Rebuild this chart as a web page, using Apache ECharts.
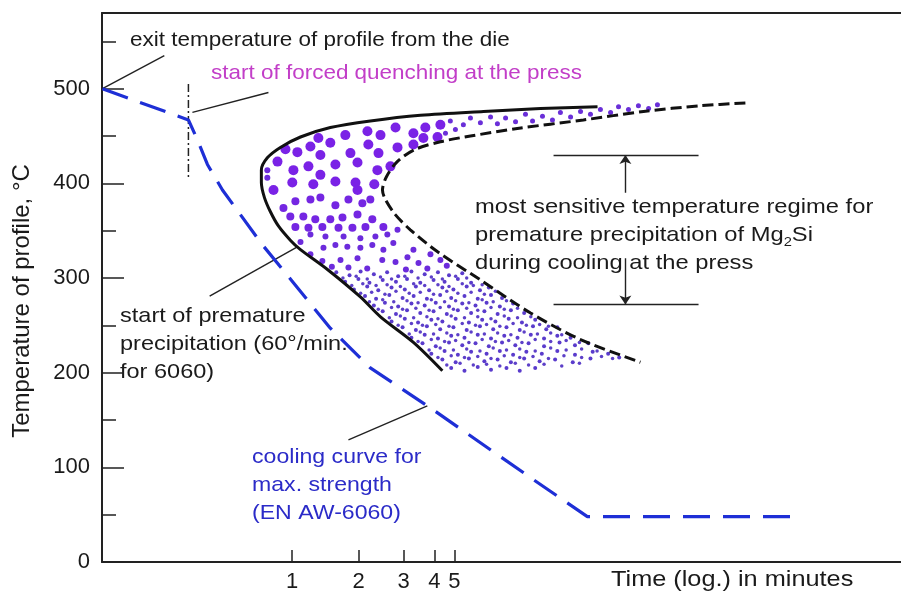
<!DOCTYPE html>
<html><head><meta charset="utf-8">
<script src="https://cdn.jsdelivr.net/npm/echarts@6/dist/echarts.min.js"></script>
<style>html,body{margin:0;padding:0;background:#fff}#c{width:901px;height:593px}</style>
</head><body><div id="c"></div>
<script>
// x axis: log10(time / 1 min), tick marks as drawn in the figure
const xTickPos = [0, 0.301, 0.505, 0.644, 0.734];
const xTickLabels = ['1', '2', '3', '4', '5'];
const yMajorTicks = [0, 100, 200, 300, 400, 500];
const yMinorTicks = [50, 150, 250, 350, 450, 550];

// cooling curve for max. strength (EN AW-6060)
const coolingCurve = [[-0.858,500],[-0.469,467],[-0.428,446],[-0.383,420],[-0.315,393],[-0.234,367],[-0.134,335],[0.006,295],[0.173,247],[0.354,205],[0.612,165],[0.852,126],[1.092,87],[1.336,48],[2.300,48]];
// start of premature precipitation (solid C curve)
const solidCurve = [[1.382,481],[1.124,479],[0.866,476],[0.581,472],[0.354,466],[0.173,459],[0.038,449],[-0.053,438],[-0.112,427],[-0.139,414],[-0.139,401],[-0.125,385],[-0.098,370],[-0.062,355],[-0.008,340],[0.038,330],[0.160,309],[0.309,280],[0.400,259],[0.549,232],[0.680,202]];
// inner dashed C curve
const dashedCurve = [[2.051,485],[1.847,482],[1.590,476],[1.318,467],[1.019,458],[0.807,450],[0.671,444],[0.558,436],[0.476,423],[0.427,407],[0.409,393],[0.422,383],[0.467,367],[0.535,351],[0.657,328],[0.852,298],[1.079,263],[1.305,235],[1.576,211]];
// start of forced quenching (dash-dot marker)
const quenchMarker = [[-0.469,505],[-0.469,406]];

// leader lines
const exitLeader = [[-0.858,500],[-0.578,535]];
const quenchLeader = [[-0.451,475],[-0.107,496]];
const prematureLeader = [[-0.373,281],[0.024,333]];
const coolingLeader = [[0.255,129],[0.612,165]];
const regimeTop = [[1.183,430],[1.839,430]];
const regimeBottom = [[1.183,272],[1.839,272]];
const arrowUp = [[1.508,390],[1.508,430]];
const arrowDown = [[1.508,321],[1.508,272]];

// precipitate dots
const dotsLarge = [[0.119,448],[0.173,443],[0.241,451],[0.341,455],[0.400,451],[0.468,459],[0.549,453],[0.603,459],[0.671,462],
[-0.030,436],[0.024,433],[0.083,439],[0.128,430],[0.264,432],[0.345,441],[0.391,432],[0.477,438],[0.549,441],[0.658,449],[0.594,448],
[-0.066,423],[0.006,414],[0.074,418],[0.128,409],[0.196,420],[0.296,422],[0.386,414],[0.445,418],
[-0.084,393],[0.001,401],[0.096,399],[0.196,402],[0.287,401],[0.296,393],[0.372,399]];
const dotsMidLarge = [[-0.039,374],[0.015,381],[0.083,383],[0.128,385],[0.196,377],[0.255,383],[0.318,379],[0.354,383],
[-0.008,365],[0.051,365],[0.105,362],[0.173,362],[0.228,364],[0.296,367],[0.363,362],
[0.015,354],[0.074,353],[0.137,354],[0.210,353],[0.273,353],[0.332,354],[0.413,354]];
const dotsMid = [[0.038,338],[0.083,346],[0.151,344],[0.233,344],[0.309,342],[0.377,344],[0.431,346],[0.477,351],
[0.142,332],[0.196,335],[0.250,333],[0.309,332],[0.363,335],[0.413,330],[0.458,337],[0.549,330],
[0.522,322],[0.626,325],[0.219,319],[0.296,321],[0.408,319],[0.468,317],[0.572,316],[0.671,319],
[-0.112,414],[-0.112,406],
[0.083,325],[0.137,318],[0.180,312],[0.255,311],[0.340,310],[0.515,309],[0.612,310],[0.700,313]];
const dotsArm = [[0.716,466],[0.775,462],[0.807,469],[0.852,464],[0.898,470],[0.929,463],[0.966,469],[1.011,465],[1.056,473],[1.088,466],[1.133,471],[1.178,467],[1.214,475],[1.260,470],[1.305,476],[1.350,473],[1.395,478],[1.441,475],[1.477,481],[1.522,478],[1.567,482],[1.613,479],[1.653,483],[0.694,453],[0.739,457]];
const dotsSmall = [
[0.20,306],[0.26,303],[0.31,307],[0.37,304],[0.43,306],[0.48,302],[0.54,307],[0.60,304],[0.66,306],[0.71,303],[0.77,305],
[0.24,296],[0.30,299],[0.35,295],[0.41,298],[0.47,296],[0.52,299],[0.58,295],[0.64,298],[0.69,296],[0.75,299],[0.81,295],
[0.28,288],[0.34,291],[0.39,287],[0.45,290],[0.51,288],[0.56,291],[0.62,287],[0.68,290],[0.73,288],[0.79,291],[0.85,287],[0.89,290],
[0.33,281],[0.38,278],[0.44,282],[0.50,279],[0.55,281],[0.61,278],[0.67,282],[0.72,279],[0.78,281],[0.84,278],[0.90,282],[0.95,279],
[0.37,271],[0.42,274],[0.48,270],[0.54,273],[0.60,271],[0.65,274],[0.71,270],[0.77,273],[0.83,271],[0.88,274],[0.94,270],[1.00,273],
[0.41,265],[0.47,262],[0.52,266],[0.58,263],[0.64,265],[0.70,262],[0.75,266],[0.81,263],[0.87,265],[0.93,262],[0.99,266],[1.05,263],
[0.45,254],[0.51,257],[0.57,253],[0.63,256],[0.68,254],[0.74,257],[0.80,253],[0.86,256],[0.92,254],[0.98,257],[1.04,253],[1.10,256],
[0.50,248],[0.56,245],[0.61,249],[0.67,246],[0.73,248],[0.79,245],[0.85,249],[0.91,246],[0.97,248],[1.03,245],[1.09,249],[1.15,246],[1.20,248],
[0.54,237],[0.60,240],[0.66,236],[0.72,239],[0.78,237],[0.84,240],[0.90,236],[0.96,239],[1.02,237],[1.08,240],[1.14,236],[1.20,239],[1.26,237],
[0.59,231],[0.65,228],[0.71,232],[0.77,229],[0.83,231],[0.89,228],[0.95,232],[1.01,229],[1.07,231],[1.14,228],[1.21,232],[1.28,229],[1.34,231],
[0.63,220],[0.69,223],[0.75,219],[0.81,222],[0.88,220],[0.94,223],[1.00,219],[1.06,222],[1.13,220],[1.20,223],[1.28,219],[1.36,222],[1.43,220],
[0.68,214],[0.74,211],[0.80,215],[0.87,212],[0.93,214],[0.99,211],[1.05,215],[1.12,212],[1.19,214],[1.27,211],[1.35,215],[1.48,216],
[0.72,205],[0.78,202],[0.84,206],[0.90,203],[0.97,205],[1.03,202],[1.10,205]];
const dotsSmallB = [
[0.23,300],[0.29,302],[0.34,299],[0.40,301],[0.45,299],[0.51,302],[0.57,300],[0.63,301],[0.68,299],[0.74,302],[0.79,300],
[0.27,292],[0.32,294],[0.38,292],[0.43,293],[0.49,291],[0.55,294],[0.60,292],[0.66,293],[0.71,291],[0.77,294],[0.82,292],[0.86,293],
[0.31,284],[0.36,285],[0.42,283],[0.47,286],[0.53,284],[0.58,285],[0.64,283],[0.70,286],[0.75,284],[0.81,285],[0.87,283],[0.92,286],
[0.35,275],[0.41,277],[0.46,275],[0.52,276],[0.57,274],[0.63,277],[0.69,275],[0.74,276],[0.80,274],[0.86,277],[0.91,275],[0.97,276],
[0.39,267],[0.45,269],[0.50,267],[0.56,268],[0.62,266],[0.67,269],[0.73,267],[0.79,268],[0.84,266],[0.90,269],[0.96,267],[1.02,268],
[0.44,258],[0.49,260],[0.55,258],[0.61,259],[0.66,257],[0.72,260],[0.78,258],[0.84,259],[0.90,257],[0.96,260],[1.02,258],[1.08,259],
[0.48,250],[0.54,252],[0.59,250],[0.65,251],[0.71,249],[0.77,252],[0.83,250],[0.88,251],[0.94,249],[1.00,252],[1.06,250],[1.12,251],[1.16,249],
[0.53,241],[0.58,243],[0.64,241],[0.70,242],[0.75,240],[0.81,243],[0.87,241],[0.93,242],[0.99,240],[1.05,243],[1.11,241],[1.17,242],[1.22,240],
[0.57,233],[0.63,235],[0.69,233],[0.74,234],[0.80,232],[0.86,235],[0.92,233],[0.98,234],[1.04,232],[1.10,235],[1.17,233],[1.24,234],[1.30,232],
[0.62,224],[0.67,226],[0.73,224],[0.79,225],[0.85,223],[0.91,226],[0.97,224],[1.03,225],[1.10,223],[1.17,226],[1.24,224],[1.31,225],[1.38,223],
[0.66,216],[0.72,218],[0.78,216],[0.84,217],[0.90,215],[0.96,218],[1.03,216],[1.09,217],[1.16,215],[1.23,218],[1.31,216],[1.40,217],[1.45,215],
[0.70,208],[0.76,210],[0.82,208],[0.88,209],[0.94,207],[1.01,210],[1.07,208],[1.14,209],[1.22,207],[1.30,210]];

const F = "'Liberation Sans', Arial, Helvetica, sans-serif";
const INK = '#1a1a1a';
const chart = echarts.init(document.getElementById('c'), null, {renderer: 'canvas'});

function leader(data, arrows) {
  return {
    type: 'lines', coordinateSystem: 'cartesian2d', silent: true, polyline: false,
    symbol: arrows ? ['none', 'arrow'] : 'none', symbolSize: 9,
    lineStyle: {color: '#222', width: 1.4, opacity: 1, curveness: 0},
    data: data.map(d => ({coords: d}))
  };
}
function dots(data, size, color) {
  return {type: 'scatter', data: data, symbolSize: size, silent: true, itemStyle: {color: color, opacity: 1}};
}

const option = {
  animation: false,
  grid: {left: 102, right: 0, top: 13, bottom: 31, show: false},
  xAxis: [{
    type: 'value', min: -0.86, max: 2.755,
    axisLine: {onZero: false, lineStyle: {color: '#222', width: 2}},
    splitLine: {show: false},
    axisTick: {show: true, inside: true, length: 12, customValues: xTickPos, lineStyle: {color: '#222', width: 1.5}},
    axisLabel: {customValues: xTickPos, margin: 9, fontSize: 22, fontFamily: F, color: INK,
      formatter: v => { const i = xTickPos.findIndex(p => Math.abs(p - v) < 1e-6); return i >= 0 ? xTickLabels[i] : ''; }}
  }, {
    type: 'value', min: -0.86, max: 2.755, position: 'top',
    axisLine: {show: true, onZero: false, lineStyle: {color: '#222', width: 2}},
    splitLine: {show: false}, axisTick: {show: false}, axisLabel: {show: false}
  }],
  yAxis: [{
    type: 'value', min: 0, max: 580,
    axisLine: {show: true, onZero: false, lineStyle: {color: '#222', width: 2}},
    splitLine: {show: false},
    axisTick: {show: true, inside: true, length: 22, customValues: yMajorTicks, lineStyle: {color: '#222', width: 1.5}},
    axisLabel: {customValues: yMajorTicks, margin: 12, fontSize: 22, fontFamily: F, color: INK}
  }, {
    type: 'value', min: 0, max: 580, position: 'left', offset: 0,
    axisLine: {show: false, onZero: false},
    splitLine: {show: false},
    axisTick: {show: true, inside: true, length: 14, customValues: yMinorTicks, lineStyle: {color: '#222', width: 1.5}},
    axisLabel: {show: false}
  }],
  series: [
    dots(dotsSmall, 4, '#5a3bcc'),
    dots(dotsSmallB, 3.5, '#5d40c8'),
    dots(dotsArm, 5, '#6a2fd8'),
    dots(dotsMid, 6, '#6c2bdc'),
    dots(dotsMidLarge, 8, '#7426e2'),
    dots(dotsLarge, 10, '#7a22e6'),
    {type: 'line', data: solidCurve, symbol: 'none', smooth: 0.3, silent: true,
      lineStyle: {color: '#111', width: 3}},
    {type: 'line', data: dashedCurve, symbol: 'none', smooth: 0.3, silent: true,
      lineStyle: {color: '#111', width: 3, type: [11, 5]}},
    {type: 'line', data: quenchMarker, symbol: 'none', silent: true,
      lineStyle: {color: '#222', width: 1.5, type: [8, 3, 2, 3]}},
    {type: 'line', data: coolingCurve, symbol: 'none', silent: true,
      lineStyle: {color: '#1e2fd6', width: 3.2, type: [27, 13]}},
    leader([exitLeader, quenchLeader, prematureLeader, coolingLeader, regimeTop, regimeBottom], false),
    leader([arrowUp, arrowDown], true)
  ],
  graphic: [
    {type: 'text', x: 130, y: 40, scaleX: 1.07, silent: true,
      style: {text: 'exit temperature of profile from the die', fontSize: 21, fontFamily: F, fill: INK, textVerticalAlign: 'middle', verticalAlign: 'middle'}},
    {type: 'text', x: 211, y: 73, scaleX: 1.07, silent: true,
      style: {text: 'start of forced quenching at the press', fontSize: 21, fontFamily: F, fill: '#c23ec8', textVerticalAlign: 'middle', verticalAlign: 'middle'}},
    {type: 'text', x: 475, y: 235, scaleX: 1.13, silent: true,
      style: {text: '{a|most sensitive temperature regime for}\n{a|premature precipitation of Mg}{s|2}{a|Si}\n{a|during cooling at the press}',
        fontSize: 21, fontFamily: F, fill: INK, textVerticalAlign: 'middle', verticalAlign: 'middle',
        rich: {a: {fontSize: 21, fontFamily: F, fill: INK, lineHeight: 28},
               s: {fontSize: 13, fontFamily: F, fill: INK, verticalAlign: 'bottom'}}}},
    {type: 'text', x: 120, y: 344, scaleX: 1.12, silent: true,
      style: {text: 'start of premature\nprecipitation (60°/min.\nfor 6060)', fontSize: 21, fontFamily: F, fill: INK, lineHeight: 28, textVerticalAlign: 'middle', verticalAlign: 'middle'}},
    {type: 'text', x: 252, y: 485, scaleX: 1.1, silent: true,
      style: {text: 'cooling curve for\nmax. strength\n(EN AW-6060)', fontSize: 21, fontFamily: F, fill: '#2b2bc8', lineHeight: 28, textVerticalAlign: 'middle', verticalAlign: 'middle'}},
    {type: 'text', x: 611, y: 580, scaleX: 1.15, silent: true,
      style: {text: 'Time (log.) in minutes', fontSize: 22, fontFamily: F, fill: INK, textVerticalAlign: 'middle', verticalAlign: 'middle'}},
    {type: 'text', x: 22, y: 301, rotation: Math.PI / 2, silent: true,
      style: {text: 'Temperature of profile, °C', fontSize: 24, fontFamily: F, fill: INK, textAlign: 'center', align: 'center', textVerticalAlign: 'middle', verticalAlign: 'middle'}}
  ]
};
chart.setOption(option);
</script></body></html>
